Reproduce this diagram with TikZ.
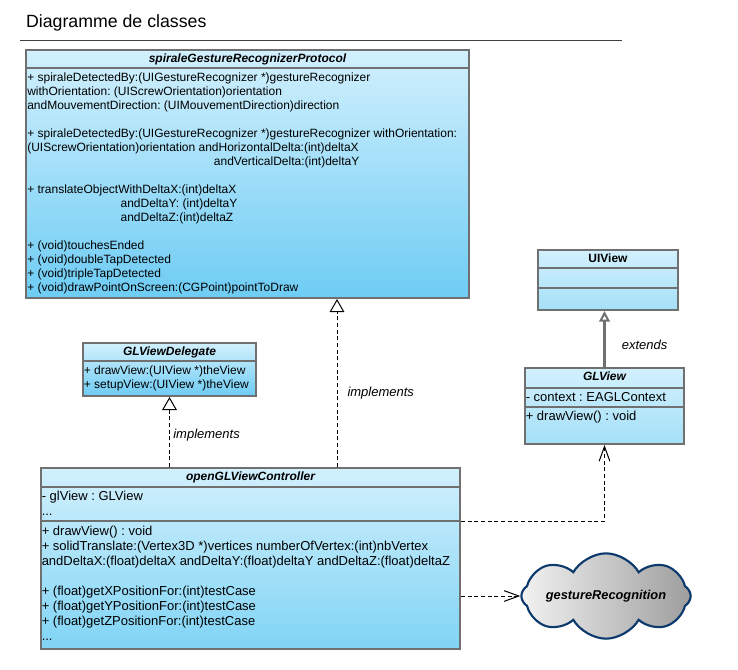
\documentclass[tikz,border=0pt]{standalone}
\usepackage{fontspec}
\setmainfont{Liberation Sans}
\usepackage{xcolor}
\usetikzlibrary{arrows.meta, shapes.symbols, fit}
\frenchspacing

\definecolor{clsline}{RGB}{112,112,112}
\definecolor{clstop}{RGB}{210,240,253}
\definecolor{clsdeep}{RGB}{110,204,244}
\definecolor{clsmid}{RGB}{128,212,245}
\definecolor{clslight}{RGB}{165,224,248}
\definecolor{cloudline}{RGB}{12,58,108}
\definecolor{cloudleft}{RGB}{242,242,242}
\definecolor{cloudright}{RGB}{158,158,158}

\begin{document}
\begin{tikzpicture}[
    x=0.75pt, y=-0.75pt,
    clsbox/.style={rectangle, draw=clsline, line width=1.5pt, top color=clstop, bottom color=#1, inner sep=0pt},
    clsbox/.default=clsdeep,
    sepline/.style={draw=clsline, line width=1.5pt},
    clshead/.style={anchor=base, inner sep=0pt, font=\fontsize{9}{10.5}\selectfont\bfseries\itshape},
    clsbody/.style={anchor=base west, inner sep=0pt, align=left, font=\fontsize{9}{10.5}\selectfont},
    clsbodyl/.style={anchor=base west, inner sep=0pt, align=left, font=\fontsize{9.75}{11.25}\selectfont},
    edgelabel/.style={font=\fontsize{9.75}{11.25}\selectfont\itshape, inner sep=0pt},
    implarrow/.style={draw=black, line width=0.75pt, dash pattern=on 3pt off 2pt, -{Triangle[open, length=9.75pt, width=11pt, line width=0.75pt]}},
    deparrow/.style={draw=black, line width=0.75pt, dash pattern=on 3pt off 2pt, -{Straight Barb[length=11pt, width=8pt, line width=0.75pt]}},
    extarrow/.style={draw=clsline, line width=2pt, -{Triangle[open, length=8pt, width=8pt, line width=1.5pt]}},
    cloudnode/.style={cloud, cloud puffs=8, cloud puff arc=120, cloud ignores aspect, draw=cloudline, line width=1.6pt, left color=cloudleft, right color=cloudright, minimum width=127pt, minimum height=64pt, inner sep=0pt, font=\fontsize{9.6}{11}\selectfont\bfseries\itshape}
]
\useasboundingbox (0,0) rectangle (738,669);

% Title
\node[anchor=base west, inner sep=0pt, font=\fontsize{13.3}{16}\selectfont] (title) at (25.8,27.6) {Diagramme de classes};
\draw[draw=black!75, line width=0.75pt] (20,40) -- (622,40);

% Classes
\node[clsbox, fit={(26,50) (469,298)}] (proto) {};
\node[clsbox, fit={(83,343) (256,396)}] (delegate) {};
\node[clsbox=clslight, fit={(538,250) (678,310)}] (uiview) {};
\node[clsbox=clslight, fit={(525,368) (684,444)}] (glview) {};
\node[clsbox=clsmid, fit={(41,468) (460,649)}] (ctrl) {};

% Compartments
\draw[sepline] ([shift={(0,19)}]proto.north west) -- ([shift={(0,19)}]proto.north east);
\draw[sepline] ([shift={(0,19)}]delegate.north west) -- ([shift={(0,19)}]delegate.north east);
\draw[sepline] ([shift={(0,19)}]uiview.north west) -- ([shift={(0,19)}]uiview.north east);
\draw[sepline] ([shift={(0,39)}]uiview.north west) -- ([shift={(0,39)}]uiview.north east);
\draw[sepline] ([shift={(0,21)}]glview.north west) -- ([shift={(0,21)}]glview.north east);
\draw[sepline] ([shift={(0,40)}]glview.north west) -- ([shift={(0,40)}]glview.north east);
\coordinate (ctrlSep) at ([shift={(0,54)}]ctrl.north east);
\draw[sepline] ([shift={(0,20)}]ctrl.north west) -- ([shift={(0,20)}]ctrl.north east);
\draw[sepline] ([shift={(0,54)}]ctrl.north west) -- (ctrlSep);

% Class names
\node[clshead] (proto-name) at ([shift={(0,13.5)}]proto.north) {spiraleGestureRecognizerProtocol};
\node[clshead] (delegate-name) at ([shift={(0,13)}]delegate.north) {GLViewDelegate};
\node[clshead, font=\fontsize{9}{10.5}\selectfont\bfseries] (uiview-name) at ([shift={(0,13)}]uiview.north) {UIView};
\node[clshead] (glview-name) at ([shift={(0,13.5)}]glview.north) {GLView};
\node[clshead] (ctrl-name) at ([shift={(0,13.5)}]ctrl.north) {openGLViewController};

% Members (anchored at the baseline of the last line)
\node[clsbody] (proto-ops) at ([shift={(2,242.5)}]proto.north west) {+ spiraleDetectedBy:(UIGestureRecognizer *)gestureRecognizer\\
withOrientation: (UIScrewOrientation)orientation\\
andMouvementDirection: (UIMouvementDirection)direction\\[10.5pt]
+ spiraleDetectedBy:(UIGestureRecognizer *)gestureRecognizer withOrientation:\\
(UIScrewOrientation)orientation andHorizontalDelta:(int)deltaX\\
\hspace*{140pt}andVerticalDelta:(int)deltaY\\[10.5pt]
+ translateObjectWithDeltaX:(int)deltaX\\
\hspace*{70pt}andDeltaY: (int)deltaY\\
\hspace*{70pt}andDeltaZ:(int)deltaZ\\[10.5pt]
+ (void)touchesEnded\\
+ (void)doubleTapDetected\\
+ (void)tripleTapDetected\\
+ (void)drawPointOnScreen:(CGPoint)pointToDraw};

\node[clsbody] (delegate-ops) at ([shift={(1.5,46.6)}]delegate.north west) {+ drawView:(UIView *)theView\\
+ setupView:(UIView *)theView};

\node[clsbodyl] (glview-attr) at ([shift={(1.5,34.5)}]glview.north west) {- context : EAGLContext};
\node[clsbodyl] (glview-ops) at ([shift={(1.5,53.5)}]glview.north west) {+ drawView() : void};

\node[clsbodyl] (ctrl-attr) at ([shift={(1.5,48)}]ctrl.north west) {- glView : GLView\\
...};
\node[clsbodyl] (ctrl-ops) at ([shift={(1.5,173)}]ctrl.north west) {+ drawView() : void\\
+ solidTranslate:(Vertex3D *)vertices numberOfVertex:(int)nbVertex\\
andDeltaX:(float)deltaX andDeltaY:(float)deltaY andDeltaZ:(float)deltaZ\\[11.25pt]
+ (float)getXPositionFor:(int)testCase\\
+ (float)getYPositionFor:(int)testCase\\
+ (float)getZPositionFor:(int)testCase\\
...};

% Cloud
\node[cloudnode] (gesture) at (606,596) {gestureRecognition};

% Connections
\coordinate (implX) at (337,0);
\draw[implarrow] (implX |- ctrl.north) -- node[edgelabel, pos=0.44, anchor=west, xshift=7.5pt] {implements} (implX |- proto.south);
\draw[implarrow] (ctrl.north -| delegate.south) -- node[edgelabel, pos=0.46, anchor=west, xshift=2.5pt] {implements} (delegate.south);
\draw[extarrow] (glview.north) -- node[edgelabel, pos=0.4, anchor=west, xshift=12pt] {extends} (glview.north |- uiview.south);
\draw[deparrow] (ctrlSep) -| (glview.south);
\draw[deparrow] (ctrl.east |- gesture.west) -- (gesture.west);

\end{tikzpicture}
\end{document}
